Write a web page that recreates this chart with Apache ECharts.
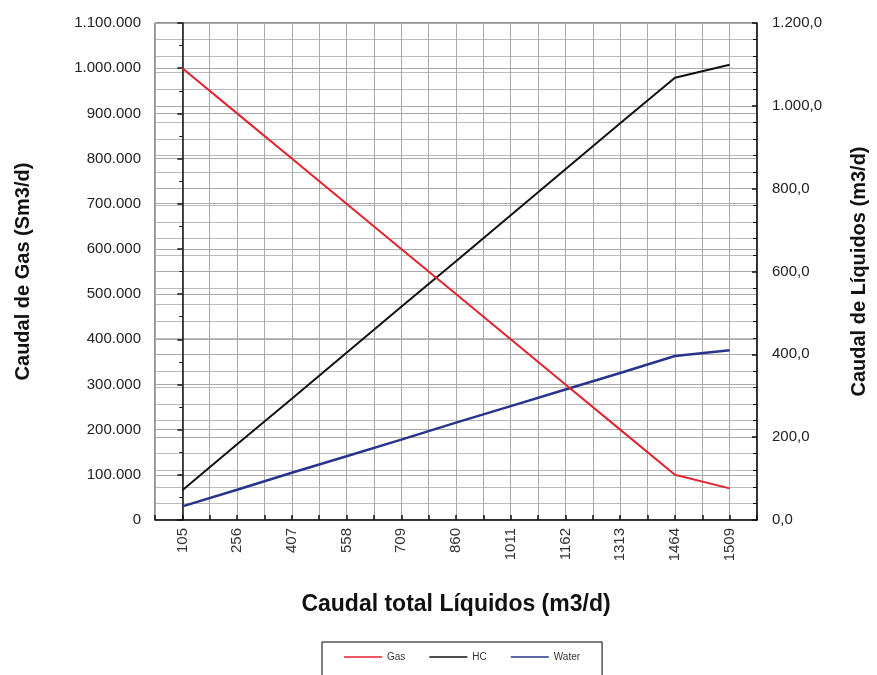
<!DOCTYPE html>
<html>
<head>
<meta charset="utf-8">
<script src="https://cdn.jsdelivr.net/npm/echarts@6/dist/echarts.min.js"></script>
<style>
  html, body { margin: 0; padding: 0; background: #fff; }
  #chart { width: 877px; height: 675px; }
</style>
</head>
<body>
<div id="chart"></div>
<script>
// chart data
const categories = ['105', '256', '407', '558', '709', '860', '1011', '1162', '1313', '1464', '1509'];
const gas = [1000000, 900000, 800000, 700000, 600000, 500000, 400000, 300000, 200000, 100000, 70000];
const hc = [72, 183, 293, 404, 515, 625, 736, 847, 958, 1068, 1099];
const water = [33, 73, 114, 154, 194, 235, 275, 315, 355, 396, 410];

const font = 'Liberation Sans, Arial, sans-serif';

// 1100000 -> "1.100.000"
const fmtGas = v => String(v).replace(/\B(?=(\d{3})+(?!\d))/g, '.');
// 1200 -> "1.200,0"
const fmtLiq = v => {
  const parts = v.toFixed(1).split('.');
  return parts[0].replace(/\B(?=(\d{3})+(?!\d))/g, '.') + ',' + parts[1];
};

const chart = echarts.init(document.getElementById('chart'));

// plain line as legend marker
const lineIcon = 'path://M0,4 L38,4 L38,5.5 L0,5.5 Z';

const option = {
  backgroundColor: '#fff',
  animation: false,
  grid: {
    left: 155, right: 114, top: 23, bottom: 155,
    show: true, borderColor: '#222', borderWidth: 1
  },
  legend: {
    bottom: -15,
    left: 322,
    padding: [10, 22, 28, 22],
    borderColor: '#000',
    borderWidth: 1,
    itemWidth: 38,
    itemHeight: 10,
    itemGap: 24,
    icon: lineIcon,
    textStyle: { fontSize: 10, color: '#333', fontFamily: font },
    data: ['Gas', 'HC', 'Water']
  },
  xAxis: [
    {
      type: 'category',
      data: categories,
      boundaryGap: true,
      name: 'Caudal total Líquidos (m3/d)',
      nameLocation: 'middle',
      nameGap: 73,
      nameTextStyle: { fontSize: 23, fontWeight: 'bold', color: '#111', fontFamily: font },
      axisLine: { show: false },
      axisTick: { show: false },
      splitLine: { show: false },
      axisLabel: { rotate: 90, margin: 8, fontSize: 15, color: '#333', fontFamily: font }
    },
    {
      // half-step grid and ticks under the categories
      type: 'value',
      position: 'bottom',
      min: -0.5,
      max: 10.5,
      interval: 0.5,
      axisLine: { show: true, lineStyle: { color: '#111', width: 1.5 } },
      axisTick: { show: true, inside: true, length: 5, lineStyle: { color: '#111', width: 1.5 } },
      axisLabel: { show: false },
      splitLine: { show: true, lineStyle: { color: '#aaa', width: 1 } }
    }
  ],
  yAxis: [
    {
      type: 'value',
      min: 0,
      max: 1100000,
      interval: 100000,
      name: 'Caudal de Gas (Sm3/d)',
      nameLocation: 'middle',
      nameRotate: 90,
      nameGap: 122,
      nameTextStyle: { fontSize: 20, fontWeight: 'bold', color: '#111', fontFamily: font },
      axisLine: { show: true, lineStyle: { color: '#111', width: 1.5 } },
      axisTick: { show: true, length: 5, lineStyle: { color: '#111', width: 1.5 } },
      minorTick: { show: true, splitNumber: 2, length: 3, lineStyle: { color: '#111' } },
      axisLabel: { formatter: fmtGas, margin: 14, fontSize: 15, color: '#222', fontFamily: font },
      splitLine: { show: true, lineStyle: { color: '#aaa', width: 1 } }
    },
    {
      type: 'value',
      min: 0,
      max: 1200,
      interval: 200,
      name: 'Caudal de Líquidos (m3/d)',
      nameLocation: 'middle',
      nameRotate: 90,
      nameGap: 92,
      nameTextStyle: { fontSize: 20, fontWeight: 'bold', color: '#111', fontFamily: font },
      axisLine: { show: true, lineStyle: { color: '#111', width: 1.5 } },
      axisTick: { show: true, inside: true, length: 5, lineStyle: { color: '#111', width: 1.5 } },
      minorTick: { show: true, splitNumber: 5, length: 4, lineStyle: { color: '#111' } },
      axisLabel: { formatter: fmtLiq, margin: 15, fontSize: 15, color: '#222', fontFamily: font },
      splitLine: { show: true, lineStyle: { color: '#aaa', width: 1 } },
      minorSplitLine: { show: true, lineStyle: { color: '#bbb', width: 1 } }
    }
  ],
  series: [
    {
      name: 'Gas', type: 'line', data: gas, yAxisIndex: 0, symbol: 'none', z: 4,
      lineStyle: { color: '#e3222e', width: 2 }, itemStyle: { color: '#e3222e' }
    },
    {
      name: 'HC', type: 'line', data: hc, yAxisIndex: 1, symbol: 'none', z: 3,
      lineStyle: { color: '#111', width: 2 }, itemStyle: { color: '#111' }
    },
    {
      name: 'Water', type: 'line', data: water, yAxisIndex: 1, symbol: 'none', z: 3,
      lineStyle: { color: '#27348b', width: 2.5 }, itemStyle: { color: '#27348b' }
    }
  ]
};

chart.setOption(option);
</script>
</body>
</html>
